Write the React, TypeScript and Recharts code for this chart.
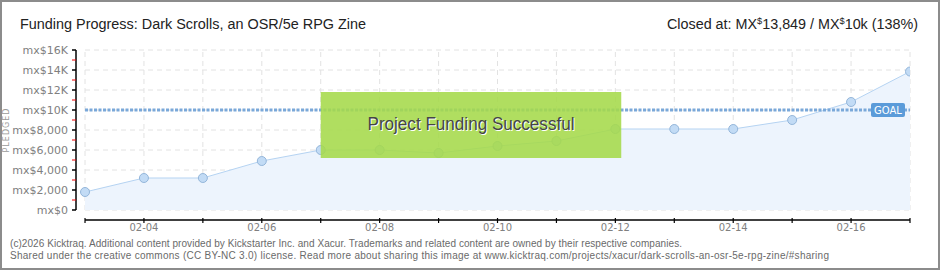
import React from 'react';
import { ComposedChart, Area, XAxis, YAxis, ReferenceLine, ReferenceArea } from 'recharts';

const dates = ['02-03', '02-04', '02-05', '02-06', '02-07', '02-08', '02-09', '02-10', '02-11', '02-12', '02-13', '02-14', '02-15', '02-16', '02-17'];
const pledged = [1800, 3200, 3200, 4900, 6000, 6000, 5700, 6400, 6900, 8100, 8100, 8100, 9000, 10800, 13849];
const yTicks = [0, 1000, 2000, 3000, 4000, 5000, 6000, 7000, 8000, 9000, 10000, 11000, 12000, 13000, 14000, 15000, 16000];
const gridValues = [0, 2000, 4000, 6000, 8000, 10000, 12000, 14000, 16000];
const goal = 10000;
const titleText = 'Funding Progress: Dark Scrolls, an OSR/5e RPG Zine';
const footer1 = '(c)2026 Kicktraq. Additional content provided by Kickstarter Inc. and Xacur. Trademarks and related content are owned by their respective companies.';
const footer2 = 'Shared under the creative commons (CC BY-NC 3.0) license. Read more about sharing this image at www.kicktraq.com/projects/xacur/dark-scrolls-an-osr-5e-rpg-zine/#sharing';

const data = dates.map((d, i) => ({ i, v: pledged[i] }));
const xIdx = dates.map((_, i) => i);
const X_MIN = -0.153;
const Y_MIN = -1000;

const yLabel = (v: number) => (v >= 10000 ? `mx$${v / 1000}K` : `mx$${v.toLocaleString('en-US')}`);

const YTick = (props: any) => {
  const { x, y, payload } = props;
  const v = payload.value;
  const major = v % 2000 === 0;
  return (
    <g>
      <line x1={x - 4} x2={x} y1={y} y2={y} stroke={major ? '#000' : '#e00'} strokeWidth={major ? 1.5 : 1} />
      {major && (
        <text x={x - 8} y={y} dy={4} textAnchor="end" fontSize={11} fill="#808080" fontFamily="DejaVu Sans">
          {yLabel(v)}
        </text>
      )}
    </g>
  );
};

const XTick = (props: any) => {
  const { x, y, payload } = props;
  const i = payload.value;
  const label = dates[i];
  const show = i % 2 === 1;
  return (
    <g>
      <line x1={x} x2={x} y1={y - 2} y2={y + 3} stroke="#000" strokeWidth={1.2} />
      {show && (
        <text x={x} y={y + 11} textAnchor="middle" fontSize={10} fill="#808080" fontFamily="DejaVu Sans">
          {label}
        </text>
      )}
    </g>
  );
};

const GoalLabel = (props: any) => {
  const vb = props.viewBox || {};
  const right = vb.x + vb.width;
  const cy = vb.y;
  return (
    <g>
      <rect x={right - 39} y={cy - 7} width={34} height={14} rx={2} fill="#5b9bd9" />
      <text x={right - 22} y={cy + 4} textAnchor="middle" fontSize={10} fill="#fff" fontFamily="DejaVu Sans">
        GOAL
      </text>
    </g>
  );
};

const BoxLabel = (props: any) => {
  const vb = props.viewBox || {};
  const cx = vb.x + vb.width / 2;
  const cy = vb.y + vb.height / 2;
  return (
    <g>
      <text x={cx + 1} y={cy + 6} textAnchor="middle" fontSize={18} fill="#fff" fontFamily="Liberation Sans Narrow, Liberation Sans, sans-serif" textLength={207} lengthAdjust="spacingAndGlyphs">
        Project Funding Successful
      </text>
      <text x={cx} y={cy + 5} textAnchor="middle" fontSize={18} fill="#454545" fontFamily="Liberation Sans Narrow, Liberation Sans, sans-serif" textLength={207} lengthAdjust="spacingAndGlyphs">
        Project Funding Successful
      </text>
    </g>
  );
};

export default function App() {
  return (
    <div style={{ position: 'absolute', left: 0, top: 0, width: 940, height: 270, background: '#fff' }}>
      <ComposedChart width={940} height={270} data={data} margin={{ top: 50, right: 30, bottom: 30, left: 0 }}>
        <XAxis
          dataKey="i"
          type="number"
          domain={[X_MIN, 14]}
          allowDataOverflow
          ticks={xIdx}
          interval={0}
          height={20}
          axisLine={false}
          tickLine={false}
          tickSize={0}
          tickMargin={0}
          tick={<XTick />}
        />
        <YAxis
          type="number"
          domain={[Y_MIN, 16000]}
          allowDataOverflow
          ticks={yTicks}
          interval={0}
          width={76}
          axisLine={false}
          tickLine={false}
          tickSize={0}
          tickMargin={0}
          tick={<YTick />}
        />
        {gridValues.map((g) => (
          <ReferenceLine key={'h' + g} zIndex={-100} segment={[{ x: 0, y: g }, { x: 14, y: g }]} stroke="#e2e2e2" strokeDasharray="5 4" ifOverflow="visible" />
        ))}
        {xIdx.map((i) => (
          <ReferenceLine key={'v' + i} zIndex={-100} segment={[{ x: i, y: 0 }, { x: i, y: 16000 }]} stroke="#e2e2e2" strokeDasharray="5 4" ifOverflow="visible" />
        ))}
        <Area
          type="linear"
          dataKey="v"
          baseValue={0}
          stroke="#b5d3f2"
          strokeWidth={1}
          fill="#edf4fd"
          fillOpacity={1}
          isAnimationActive={false}
          dot={{ r: 4.5, fill: '#c2dbf5', stroke: '#94b6da', strokeWidth: 1 }}
          activeDot={false}
        />
        <ReferenceLine
          segment={[{ x: 0, y: goal }, { x: 14, y: goal }]}
          stroke="#7aa8d9"
          strokeWidth={3}
          strokeDasharray="3 1.5"
          ifOverflow="visible"
          label={<GoalLabel />}
        />
        <ReferenceArea
          zIndex={1600}
          x1={4}
          x2={9.1}
          y1={5200}
          y2={11800}
          fill="#a5d94a"
          fillOpacity={0.88}
          stroke="none"
          ifOverflow="visible"
          label={<BoxLabel />}
        />
        <ReferenceLine segment={[{ x: X_MIN, y: 0 }, { x: X_MIN, y: 16000 }]} stroke="#000" strokeWidth={1.5} ifOverflow="visible" />
        <ReferenceLine segment={[{ x: 0, y: Y_MIN }, { x: 14, y: Y_MIN }]} stroke="#000" strokeWidth={1.5} ifOverflow="visible" />
      </ComposedChart>
      <svg width={940} height={270} style={{ position: 'absolute', left: 0, top: 0, pointerEvents: 'none' }}>
        <rect x={1} y={1} width={938} height={268} fill="none" stroke="#8c8c8c" strokeWidth={2} />
        <text x={20} y={29} fontSize={14} fill="#222" fontFamily="Liberation Sans Narrow, Liberation Sans, sans-serif" textLength={346} lengthAdjust="spacingAndGlyphs">
          {titleText}
        </text>
        <text x={667} y={29} fontSize={14} fill="#222" fontFamily="Liberation Sans Narrow, Liberation Sans, sans-serif" textLength={251} lengthAdjust="spacingAndGlyphs">
          <tspan>Closed at:  MX</tspan>
          <tspan fontSize={9} dy={-5}>$</tspan>
          <tspan dy={5}>13,849 / MX</tspan>
          <tspan fontSize={9} dy={-5}>$</tspan>
          <tspan dy={5}>10k (138%)</tspan>
        </text>
        <text x={0} y={0} transform="translate(9,130) rotate(-90)" textAnchor="middle" fontSize={8} fill="#9a9a9a" fontFamily="DejaVu Sans" letterSpacing={1}>
          PLEDGED
        </text>
        <text x={10} y={247} fontSize={10} fill="#6a6a6a" fontFamily="Liberation Sans, sans-serif" textLength={672} lengthAdjust="spacing">
          {footer1}
        </text>
        <text x={10} y={259} fontSize={10} fill="#6a6a6a" fontFamily="Liberation Sans, sans-serif" textLength={819} lengthAdjust="spacing">
          {footer2}
        </text>
      </svg>
    </div>
  );
}
